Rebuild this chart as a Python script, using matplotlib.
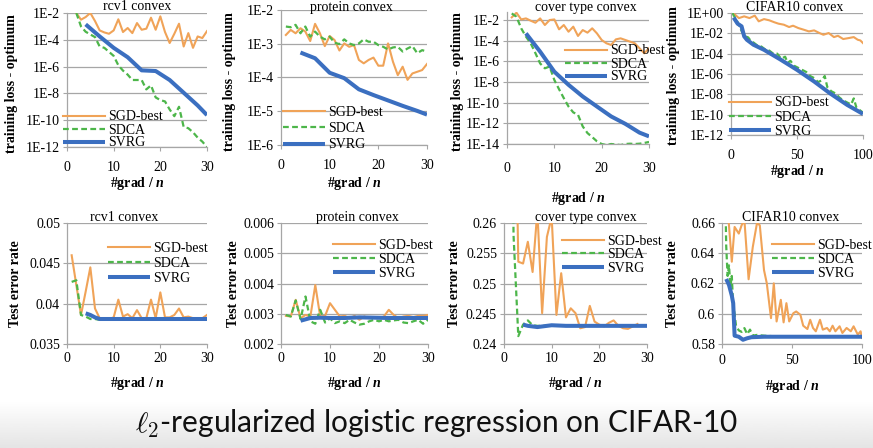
import numpy as np
import matplotlib
matplotlib.use('Agg')
import matplotlib.pyplot as plt
from matplotlib.ticker import FixedLocator, FixedFormatter

# ---------------- DATA ----------------
# Top row: training loss - optimum (stored as log10 exponents)
rcv1_sgd_x = list(range(2, 31))
rcv1_sgd_log = [-2.0, -2.5, -2.3, -2.0, -2.6, -3.3, -3.45, -3.55, -3.3, -2.47, -3.42, -3.12, -3.5, -2.75,
                -3.25, -3.17, -2.35, -3.25, -2.25, -3.42, -4.24, -3.55, -2.8, -4.5, -3.5, -4.6, -3.75, -3.87, -3.35]
rcv1_sdca_x = list(range(2, 31))
rcv1_sdca_log = [-2.0, -3.0, -3.4, -3.6, -3.8, -4.5, -4.6, -4.9, -5.2, -5.9, -6.3, -6.6, -7.0, -7.0, -7.0,
                 -7.7, -7.4, -8.3, -8.5, -8.6, -9.2, -9.7, -9.0, -10.5, -10.6, -10.9, -11.3, -11.6, -12.0]
rcv1_svrg_x = [4, 7, 10, 13, 16, 19, 22, 25, 28, 30]
rcv1_svrg_log = [-2.85, -3.75, -4.6, -5.3, -6.28, -6.33, -7.0, -7.95, -8.9, -9.62]

protein_sgd_x = list(range(1, 31))
protein_sgd_log = [-2.74, -2.59, -2.69, -2.54, -2.64, -2.92, -2.41, -2.69, -3.07, -2.77, -2.89, -3.2, -2.99,
                   -3.09, -3.04, -3.48, -3.58, -3.48, -3.41, -3.65, -3.65, -2.99, -3.53, -3.93, -3.68, -4.07,
                   -3.88, -3.83, -3.78, -3.6]
protein_sdca_x = list(range(1, 31))
protein_sdca_log = [-2.49, -2.51, -2.44, -2.69, -2.49, -2.79, -2.64, -2.79, -2.87, -2.79, -2.97, -3.01, -2.87,
                    -2.99, -3.04, -2.99, -2.87, -2.94, -2.94, -3.04, -3.09, -3.17, -3.11, -3.09, -3.23, -3.14,
                    -3.07, -3.28, -3.19, -3.23]
protein_svrg_x = [4, 7, 10, 13, 16, 19, 22, 25, 28, 30]
protein_svrg_log = [-3.26, -3.43, -3.86, -4.02, -4.35, -4.52, -4.68, -4.84, -4.99, -5.1]

cover_sgd_x = list(range(1, 31))
cover_sgd_log = [-1.74, -1.29, -1.94, -1.84, -2.06, -2.26, -1.84, -2.48, -2.0, -1.94, -2.9, -2.48, -3.13,
                 -2.64, -3.54, -2.97, -3.22, -2.8, -3.29, -3.93, -4.25, -4.41, -3.87, -3.77, -3.93, -4.09,
                 -4.25, -4.73, -5.22, -4.73]
cover_sdca_x = list(range(1, 31))
cover_sdca_log = [-1.36, -1.68, -2.8, -3.6, -4.25, -5.2, -6.2, -6.67, -6.5, -7.8, -8.7, -9.56, -10.37, -10.94,
                  -11.17, -12.3, -12.94, -13.33, -13.74, -14.0, -14.1, -14.0, -14.05, -14.1, -14.0, -13.97,
                  -14.0, -13.97, -13.9, -13.8]
cover_svrg_x = [4, 7, 10, 13, 16, 19, 22, 25, 28, 30]
cover_svrg_log = [-3.29, -5.06, -7.0, -8.27, -9.4, -10.37, -11.33, -12.05, -12.9, -13.26]

cifar_sgd_x = [1, 3, 6, 10, 14, 18, 21, 25, 29, 33, 36, 40, 44, 47, 51, 55, 59, 63, 67, 70, 74, 78, 81, 85,
               89, 93, 96, 98, 100]
cifar_sgd_log = [0.0, -0.16, -0.5, -0.33, -0.5, -0.26, -0.82, -0.6, -0.72, -0.92, -1.05, -1.15, -1.38, -1.25,
                 -1.48, -1.64, -1.81, -1.71, -1.97, -2.14, -1.97, -2.37, -2.24, -2.56, -2.47, -2.37, -2.63,
                 -2.7, -2.96]
cifar_sdca_x = [1, 3, 5, 7, 9, 11, 13, 15, 17, 20, 23, 26, 29, 32, 35, 38, 41, 43, 45, 48, 51, 54, 57, 60,
                63, 66, 69, 71, 73, 76, 79, 82, 85, 88, 91, 93, 95, 97, 100]
cifar_sdca_log = [0.0, -0.45, -0.9, -1.5, -2.0, -2.3, -2.4, -2.75, -2.9, -3.2, -3.3, -3.6, -3.7, -4.0, -4.0,
                  -4.5, -4.3, -4.9, -4.7, -5.2, -5.4, -5.6, -5.8, -6.2, -6.4, -6.8, -6.6, -6.2, -7.3, -7.7,
                  -7.9, -8.3, -8.6, -8.8, -9.0, -8.4, -9.3, -9.5, -9.8]
cifar_svrg_x = [2, 5, 8, 10, 12, 17, 25, 37, 50, 63, 75, 88, 100]
cifar_svrg_log = [-0.45, -1.05, -1.31, -2.3, -2.63, -3.12, -3.62, -4.54, -5.59, -6.74, -7.9, -9.04, -9.93]

# Bottom row: test error rate
rcv1_test_sgd_x = list(range(1, 31))
rcv1_test_sgd = [0.0460, 0.0423, 0.0386, 0.0415, 0.0445, 0.0394, 0.0382, 0.0380, 0.0381, 0.0383, 0.0405,
                 0.0384, 0.0387, 0.0382, 0.0392, 0.0382, 0.0382, 0.0405, 0.0382, 0.0414, 0.0383, 0.0383,
                 0.0386, 0.0394, 0.0383, 0.0384, 0.0382, 0.0382, 0.0382, 0.0386]
rcv1_test_sdca_x = list(range(1, 31))
rcv1_test_sdca = [0.0427, 0.0429, 0.0386, 0.0384, 0.0381, 0.0381, 0.0380, 0.0381, 0.0381, 0.0380,
                  0.0381, 0.0381, 0.0380, 0.0381, 0.0381, 0.0381, 0.0380, 0.0381, 0.0381, 0.0381,
                  0.0380, 0.0381, 0.0381, 0.0381, 0.0380, 0.0381, 0.0381, 0.0381, 0.0381, 0.0381]
rcv1_test_svrg_x = [4, 5, 6, 7, 8, 10, 13, 16, 19, 22, 25, 28, 30]
rcv1_test_svrg = [0.0388, 0.0386, 0.0383, 0.0381, 0.0381, 0.0381, 0.0381, 0.0381, 0.0381, 0.0381,
                  0.0381, 0.0381, 0.0381]

protein_test_sgd_x = list(range(1, 31))
protein_test_sgd = [0.00293, 0.00291, 0.00346, 0.00285, 0.00296, 0.00291, 0.00395, 0.00291, 0.00293,
                    0.00335, 0.00313, 0.00291, 0.00293, 0.00285, 0.00293, 0.00280, 0.00291, 0.00285,
                    0.00289, 0.00285, 0.00291, 0.00313, 0.00296, 0.00285, 0.00291, 0.00293, 0.00289,
                    0.00293, 0.00293, 0.00296]
protein_test_sdca_x = list(range(1, 31))
protein_test_sdca = [0.00296, 0.00291, 0.00344, 0.00282, 0.00357, 0.00275, 0.00267, 0.00313, 0.00271,
                     0.00285, 0.00269, 0.00275, 0.00269, 0.00280, 0.00271, 0.00264, 0.00267, 0.00275,
                     0.00280, 0.00275, 0.00280, 0.00275, 0.00278, 0.00280, 0.00271, 0.00269, 0.00275,
                     0.00280, 0.00267, 0.00280]
protein_test_svrg_x = [4, 6, 8, 10, 13, 16, 19, 22, 25, 28, 30]
protein_test_svrg = [0.00277, 0.00286, 0.00287, 0.00286, 0.00286, 0.00288, 0.00287, 0.00286, 0.00286,
                     0.00286, 0.00286]

cover_test_sgd_x = list(range(2, 29))
cover_test_sgd = [0.300, 0.2536, 0.2533, 0.2569, 0.2519, 0.262, 0.2451, 0.2577, 0.261, 0.2448, 0.2517,
                  0.2444, 0.2459, 0.2451, 0.2426, 0.2428, 0.2463, 0.2437, 0.2432, 0.2429, 0.2435, 0.2439,
                  0.2430, 0.2426, 0.2425, 0.2429, 0.2433]
cover_test_sdca_x = list(range(1, 31))
cover_test_sdca = [0.350, 0.258, 0.2413, 0.2432, 0.2439, 0.2431, 0.2430, 0.2430, 0.2430, 0.2431,
                   0.2430, 0.2430, 0.2430, 0.2430, 0.2430, 0.2430, 0.2430, 0.2430, 0.2430, 0.2430,
                   0.2430, 0.2430, 0.2430, 0.2430, 0.2430, 0.2430, 0.2430, 0.2430, 0.2430, 0.2430]
cover_test_svrg_x = [4, 5, 7, 10, 13, 16, 19, 22, 25, 28, 30]
cover_test_svrg = [0.2432, 0.2430, 0.2428, 0.2431, 0.2430, 0.2430, 0.2430, 0.2430, 0.2430, 0.2430, 0.2430]

cifar_test_sgd_x = [4, 7, 9, 12, 14, 16, 19, 22, 25, 27, 30, 32, 35, 37, 39, 42, 44, 46, 48, 51, 53, 56,
                    58, 61, 63, 65, 67, 70, 72, 75, 77, 79, 81, 84, 86, 89, 92, 94, 97, 99, 100]
cifar_test_sgd = [0.67, 0.6344, 0.6574, 0.653, 0.6585, 0.662, 0.6228, 0.6442, 0.66, 0.6585, 0.6289, 0.6201,
                  0.5971, 0.6201, 0.5949, 0.6092, 0.5943, 0.607, 0.5949, 0.6004, 0.6015, 0.5993, 0.5921,
                  0.5899, 0.596, 0.5906, 0.5884, 0.596, 0.5895, 0.5906, 0.5884, 0.5921, 0.5884, 0.5917,
                  0.5873, 0.5906, 0.5884, 0.5917, 0.5862, 0.5884, 0.584]
cifar_test_sdca_x = [2, 3, 4, 5, 6, 7, 8, 9, 10, 12, 14, 16, 18, 20, 22, 25, 30, 40, 50, 60, 70, 80, 90, 100]
cifar_test_sdca = [0.70, 0.645, 0.625, 0.632, 0.618, 0.625, 0.605, 0.600, 0.592, 0.589, 0.588, 0.5905,
                   0.5865, 0.5895, 0.5855, 0.586, 0.5855, 0.585, 0.585, 0.585, 0.585, 0.585, 0.585, 0.585]
cifar_test_svrg_x = [3, 5, 7, 8, 9, 12, 15, 18, 21, 30, 40, 50, 60, 70, 80, 90, 100]
cifar_test_svrg = [0.623, 0.619, 0.612, 0.607, 0.5855, 0.5848, 0.5828, 0.5838, 0.5845, 0.5848, 0.5848,
                   0.5848, 0.5848, 0.5848, 0.5848, 0.5848, 0.5848]

series_names = ['SGD-best', 'SDCA', 'SVRG']
titles = ['rcv1 convex', 'protein convex', 'cover type convex', 'CIFAR10 convex']

ticks_top = [
    ([1e-2, 1e-4, 1e-6, 1e-8, 1e-10, 1e-12], ['1E-2', '1E-4', '1E-6', '1E-8', '1E-10', '1E-12']),
    ([1e-2, 1e-3, 1e-4, 1e-5, 1e-6], ['1E-2', '1E-3', '1E-4', '1E-5', '1E-6']),
    ([1e-2, 1e-4, 1e-6, 1e-8, 1e-10, 1e-12, 1e-14], ['1E-2', '1E-4', '1E-6', '1E-8', '1E-10', '1E-12', '1E-14']),
    ([1e0, 1e-2, 1e-4, 1e-6, 1e-8, 1e-10, 1e-12], ['1E+00', '1E-02', '1E-04', '1E-06', '1E-08', '1E-10', '1E-12']),
]
ticks_bottom = [
    ([0.035, 0.04, 0.045, 0.05], ['0.035', '0.04', '0.045', '0.05']),
    ([0.002, 0.003, 0.004, 0.005, 0.006], ['0.002', '0.003', '0.004', '0.005', '0.006']),
    ([0.24, 0.245, 0.25, 0.255, 0.26], ['0.24', '0.245', '0.25', '0.255', '0.26']),
    ([0.58, 0.6, 0.62, 0.64, 0.66], ['0.58', '0.6', '0.62', '0.64', '0.66']),
]
xticks_30 = [0, 10, 20, 30]
xticks_100 = [0, 50, 100]

# ---------------- STYLE ----------------
plt.rcParams['font.family'] = ['Liberation Serif', 'DejaVu Serif']
plt.rcParams['mathtext.fontset'] = 'custom'
plt.rcParams['mathtext.rm'] = 'Liberation Serif'
plt.rcParams['mathtext.it'] = 'Liberation Serif:italic'
plt.rcParams['mathtext.bf'] = 'Liberation Serif:bold'
plt.rcParams['mathtext.bfit'] = 'Liberation Serif:italic:bold'

C_SGD = '#F0A358'
C_SDCA = '#4DB64A'
C_SVRG = '#3B6FC0'
GRID = '#A6A6A6'
FS = 10

W, H = 873, 448
fig = plt.figure(figsize=(W / 100, H / 100), dpi=100)
fig.patch.set_facecolor('white')

# bottom gradient band
bg = fig.add_axes([0, 0, 1, 46 / H], zorder=-10)
grad = np.linspace(1.0, 0.895, 100).reshape(-1, 1)
bg.imshow(grad, cmap='gray', vmin=0, vmax=1, aspect='auto', extent=[0, 1, 0, 1], origin='upper')
bg.axis('off')


def make_ax(box):
    l, t, r, b = box
    return fig.add_axes([l / W, 1 - b / H, (r - l) / W, (b - t) / H])


def style_ax(ax, box, xt, yt, ylabel, xlim, ylim, log, xlab_y, ylab_x, ylab_dy, xtick_pad):
    l, t, r, b = box
    if log:
        ax.set_yscale('log')
    ax.set_xlim(*xlim)
    ax.set_ylim(*ylim)
    ax.yaxis.set_major_locator(FixedLocator(yt[0]))
    ax.yaxis.set_major_formatter(FixedFormatter(yt[1]))
    ax.yaxis.set_minor_locator(FixedLocator([]))
    ax.set_xticks(xt)
    ax.set_xticklabels([str(v) for v in xt])
    ax.grid(axis='y', color=GRID, linewidth=0.9)
    ax.set_axisbelow(True)
    for s in ['top', 'right']:
        ax.spines[s].set_visible(False)
    for s in ['left', 'bottom']:
        ax.spines[s].set_color(GRID)
        ax.spines[s].set_linewidth(0.9)
    ax.tick_params(axis='y', length=3, width=0.8, color=GRID, pad=2, labelsize=FS)
    ax.tick_params(axis='x', length=3, width=0.8, color=GRID, pad=xtick_pad, labelsize=FS)
    ax.set_ylabel(ylabel, fontweight='bold', fontsize=FS)
    ax.yaxis.label.set_va('center')
    ax.yaxis.set_label_coords((ylab_x - l) / (r - l), 0.5 - ylab_dy / (b - t))
    ax.set_xlabel(r'#grad / $\mathbfit{n}$', fontweight='bold', fontsize=FS)
    ax.xaxis.label.set_va('center')
    ax.xaxis.set_label_coords(0.5, (b - xlab_y) / (b - t))


def add_legend(ax, x0, yc, spacing):
    ax.legend(loc='upper left', bbox_to_anchor=(x0 / W, 1 - (yc - 2.5) / H),
              bbox_transform=fig.transFigure, frameon=False, borderpad=0, borderaxespad=0,
              handlelength=3.0, handletextpad=0.25, labelspacing=spacing, prop={'size': FS})


def draw(ax, sets, log):
    (x1, y1), (x2, y2), (x3, y3) = sets
    if log:
        y1, y2, y3 = [10.0 ** np.array(v) for v in (y1, y2, y3)]
    ax.plot(x1, y1, color=C_SGD, lw=1.5, label=series_names[0], solid_joinstyle='round')
    ax.plot(x2, y2, color=C_SDCA, lw=1.6, ls=(0, (2.6, 1.5)), label=series_names[1])
    ax.plot(x3, y3, color=C_SVRG, lw=2.9, label=series_names[2], solid_capstyle='butt')


top_boxes = [(67, 13, 207, 147), (281, 10, 427, 145), (507, 12, 649, 144), (731, 13, 863, 135)]
bot_boxes = [(67, 223, 207, 344), (281, 223, 428, 344), (504, 223, 647, 344), (722, 223, 862, 344)]

top_data = [
    [(rcv1_sgd_x, rcv1_sgd_log), (rcv1_sdca_x, rcv1_sdca_log), (rcv1_svrg_x, rcv1_svrg_log)],
    [(protein_sgd_x, protein_sgd_log), (protein_sdca_x, protein_sdca_log), (protein_svrg_x, protein_svrg_log)],
    [(cover_sgd_x, cover_sgd_log), (cover_sdca_x, cover_sdca_log), (cover_svrg_x, cover_svrg_log)],
    [(cifar_sgd_x, cifar_sgd_log), (cifar_sdca_x, cifar_sdca_log), (cifar_svrg_x, cifar_svrg_log)],
]
bot_data = [
    [(rcv1_test_sgd_x, rcv1_test_sgd), (rcv1_test_sdca_x, rcv1_test_sdca), (rcv1_test_svrg_x, rcv1_test_svrg)],
    [(protein_test_sgd_x, protein_test_sgd), (protein_test_sdca_x, protein_test_sdca),
     (protein_test_svrg_x, protein_test_svrg)],
    [(cover_test_sgd_x, cover_test_sgd), (cover_test_sdca_x, cover_test_sdca), (cover_test_svrg_x, cover_test_svrg)],
    [(cifar_test_sgd_x, cifar_test_sgd), (cifar_test_sdca_x, cifar_test_sdca), (cifar_test_svrg_x, cifar_test_svrg)],
]

top_ylim = [(1e-12, 1e-2), (1e-6, 1e-2), (1e-14, 10 ** -1.22), (1e-12, 1.0)]
bot_ylim = [(0.035, 0.05), (0.002, 0.006), (0.24, 0.26), (0.58, 0.66)]
xlims = [(0, 30), (0, 30), (0, 30), (0, 100)]
xts = [xticks_30, xticks_30, xticks_30, xticks_100]

top_xlab_y = [183, 183, 198, 171]
top_ylab_x = [12, 229, 457, 673]
top_ylab_dy = [4, 4, 4, 2]
top_xtick_pad = [7, 7, 10, 7]
top_title_pos = [(137, 7), (351, 7), (586, 7.5), (795, 7.5)]
top_leg = [(63, 113, 0.0), (283, 108, 0.25), (565, 47, 0.0), (729, 99, 0.1)]

bot_xlab_y = [383, 383, 383, 386]
bot_ylab_x = [16, 234, 455, 673]
bot_xtick_pad = [3, 3, 3, 4]
bot_title_pos = [(124, 217), (357, 217), (586, 217), (791, 217)]
bot_leg = [(108, 244, 0.17), (333, 241, 0.1), (562, 237, 0.05), (772, 241, 0.1)]

for i in range(4):
    ax = make_ax(top_boxes[i])
    draw(ax, top_data[i], True)
    style_ax(ax, top_boxes[i], xts[i], ticks_top[i], 'training loss - optimum', xlims[i], top_ylim[i], True,
             top_xlab_y[i], top_ylab_x[i], top_ylab_dy[i], top_xtick_pad[i])
    add_legend(ax, *top_leg[i])
    fig.text(top_title_pos[i][0] / W, 1 - top_title_pos[i][1] / H, titles[i], ha='center', va='center',
             fontsize=FS)

    ax = make_ax(bot_boxes[i])
    draw(ax, bot_data[i], False)
    style_ax(ax, bot_boxes[i], xts[i], ticks_bottom[i], 'Test error rate', xlims[i], bot_ylim[i], False,
             bot_xlab_y[i], bot_ylab_x[i], 0, bot_xtick_pad[i])
    add_legend(ax, *bot_leg[i])
    fig.text(bot_title_pos[i][0] / W, 1 - bot_title_pos[i][1] / H, titles[i], ha='center', va='center',
             fontsize=FS)

fig.text(437 / W, 1 - 424 / H, r'$\ell_2$-regularized logistic regression on CIFAR-10', ha='center',
         va='center', fontsize=21.5, family=['Lato', 'DejaVu Sans'], math_fontfamily='cm', color='#111111')

fig.savefig('out.png', dpi=100, facecolor='white')
